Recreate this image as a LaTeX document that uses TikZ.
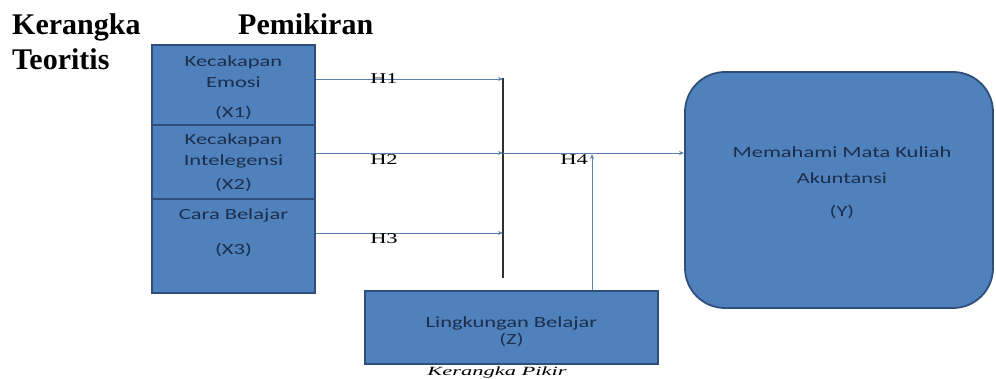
\documentclass[tikz,border=0pt]{standalone}
\usepackage{fontspec}
\setmainfont{Liberation Serif}
\newfontfamily\bxfont[FakeStretch=1.45]{Carlito}
\newfontfamily\hfont[FakeStretch=1.5]{Liberation Serif}
\newfontfamily\capfont[FakeStretch=1.8]{Liberation Serif}
\usetikzlibrary{arrows.meta}
\definecolor{boxfill}{HTML}{4F81BD}
\definecolor{boxline}{HTML}{2F4F7A}
\definecolor{boxtext}{HTML}{1C2E4A}
\definecolor{connc}{HTML}{5A82B4}
\definecolor{vlinec}{HTML}{303030}
\begin{document}
\begin{tikzpicture}[x=1pt,y=-1pt,
 box/.style={draw=boxline,line width=1.8pt,fill=boxfill,inner sep=0pt},
 btxt/.style={text=boxtext,font=\bxfont\fontsize{15.5}{18}\selectfont,inner sep=0pt},
 hyp/.style={font=\hfont\fontsize{15}{18}\selectfont,inner sep=0pt},
 conn/.style={draw=connc,line width=0.9pt},
 tipped/.style={-{Stealth[length=5pt,width=4pt]}},
 ttl/.style={font=\bfseries\fontsize{30}{36}\selectfont,anchor=base west,inner sep=0pt}]
\useasboundingbox (0,0) rectangle (996,379);
% title
\node[ttl] (t1) at (12,35) {Kerangka};
\node[ttl] (t2) at (238,35) {Pemikiran};
\node[ttl] (t3) at (12,70) {Teoritis};
% boxes
\node[box,minimum width=163pt,minimum height=80pt] (x1) at (233.5,85) {};
\node[box,minimum width=163pt,minimum height=74pt] (x2) at (233.5,162) {};
\node[box,minimum width=163pt,minimum height=94pt] (x3) at (233.5,246) {};
\node[box,minimum width=293pt,minimum height=73pt] (z) at (511.5,327.5) {};
\node[box,rounded corners=40pt,minimum width=308pt,minimum height=236pt] (y) at (839,190) {};
% box texts
\node[btxt] (x1a) at (233.5,62) {Kecakapan};
\node[btxt] (x1b) at (233.5,82) {Emosi};
\node[btxt] (x1c) at (233.5,113) {(X1)};
\node[btxt] (x2a) at (233.5,140) {Kecakapan};
\node[btxt] (x2b) at (233.5,161) {Intelegensi};
\node[btxt] (x2c) at (233.5,185) {(X2)};
\node[btxt] (x3a) at (233.5,215) {Cara Belajar};
\node[btxt] (x3b) at (233.5,250) {(X3)};
\node[btxt] (za) at (511.5,323) {Lingkungan Belajar};
\node[btxt] (zb) at (511.5,340) {(Z)};
\node[btxt] (ya) at (842,152) {Memahami Mata Kuliah};
\node[btxt] (yb) at (842,178) {Akuntansi};
\node[btxt] (yc) at (842,212) {(Y)};
% junctions
\coordinate (j1) at (503,79);
\coordinate (j2) at (503,153);
\coordinate (j3) at (503,233);
\coordinate (vtop) at (503,78);
\coordinate (vbot) at (503,278);
\coordinate (h4top) at (592,154);
% connectors
\draw[vlinec,line width=1.4pt] (vtop) -- (vbot);
\draw[conn,tipped] (x1.east |- j1) -- (j1);
\draw[conn,tipped] (x2.east |- j2) -- (j2);
\draw[conn,tipped] (j2) -- (y.west |- j2);
\draw[conn,tipped] (x3.east |- j3) -- (j3);
\draw[conn,tipped] (z.north -| h4top) -- (h4top);
% hypothesis labels
\node[hyp] (h1) at (384,79) {H1};
\node[hyp] (h2) at (384,160) {H2};
\node[hyp] (h3) at (384,239) {H3};
\node[hyp] (h4) at (574,160) {H4};
% caption
\node[font=\capfont\itshape\fontsize{12.5}{15}\selectfont,anchor=base,inner sep=0pt] (cap) at (497,375) {Kerangka Pikir};
\end{tikzpicture}
\end{document}
